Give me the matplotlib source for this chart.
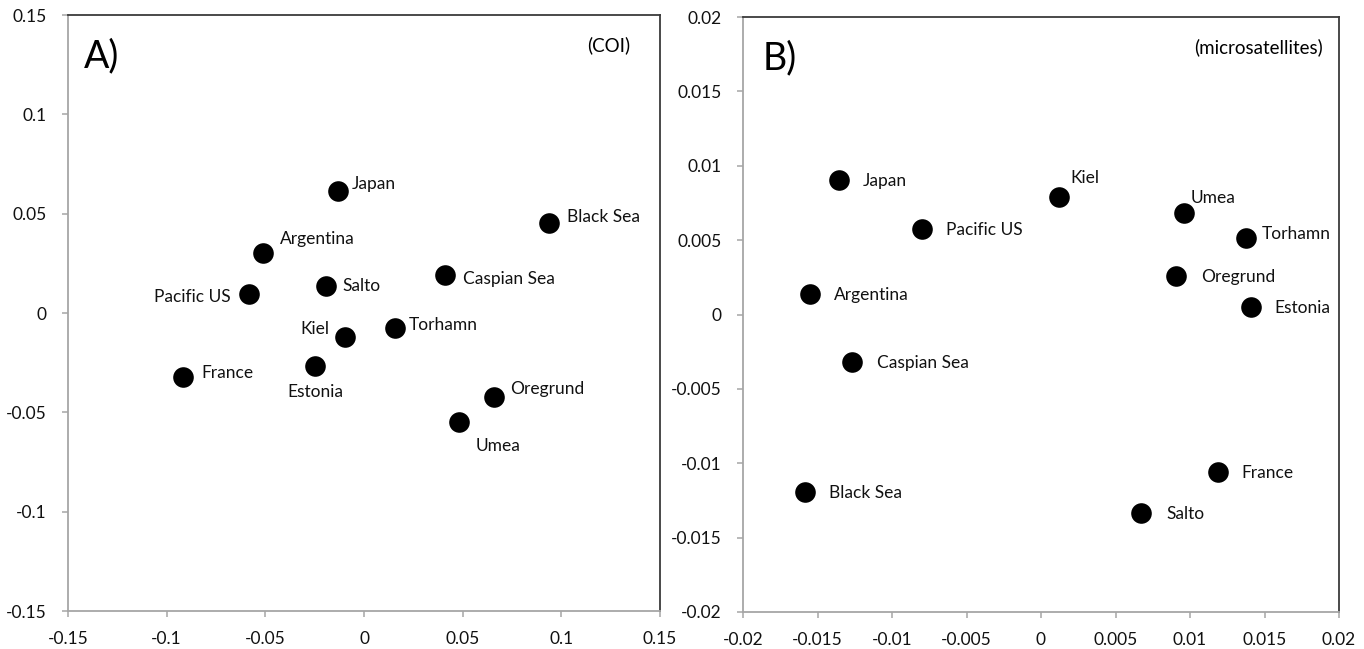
import matplotlib
matplotlib.use("Agg")
import matplotlib.pyplot as plt

plt.rcParams['font.family'] = ['Lato', 'DejaVu Sans']

# ---- Panel A (COI) ----
coi_names = ["Japan", "Black Sea", "Argentina", "Caspian Sea", "Salto", "Pacific US",
             "Torhamn", "Kiel", "Estonia", "France", "Oregrund", "Umea"]
coi_x = [-0.0132, 0.0937, -0.0512, 0.0410, -0.0193, -0.0583,
         0.0155, -0.0096, -0.0248, -0.0917, 0.0661, 0.0481]
coi_y = [0.0614, 0.0453, 0.0302, 0.0191, 0.0136, 0.0096,
         -0.0076, -0.0121, -0.0267, -0.0322, -0.0423, -0.0549]

# ---- Panel B (microsatellites) ----
ms_names = ["Japan", "Pacific US", "Argentina", "Caspian Sea", "Kiel", "Umea",
            "Torhamn", "Oregrund", "Estonia", "Black Sea", "France", "Salto"]
ms_x = [-0.01356, -0.00799, -0.0155, -0.01268, 0.0012, 0.0096,
        0.01376, 0.00906, 0.0141, -0.01584, 0.01188, 0.00671]
ms_y = [0.00904, 0.00575, 0.00138, -0.00319, 0.0079, 0.00682,
        0.00514, 0.00259, 0.0005, -0.01193, -0.01059, -0.01335]

coi_ticks = [-0.15, -0.1, -0.05, 0, 0.05, 0.1, 0.15]
coi_ticklabels = ["-0.15", "-0.1", "-0.05", "0", "0.05", "0.1", "0.15"]
ms_ticks = [-0.02, -0.015, -0.01, -0.005, 0, 0.005, 0.01, 0.015, 0.02]
ms_ticklabels = ["-0.02", "-0.015", "-0.01", "-0.005", "0", "0.005", "0.01", "0.015", "0.02"]

# label offsets in points (dx, dy, ha)
coi_offsets = {
    "Japan": (10, 5, "left"), "Black Sea": (13, 4, "left"), "Argentina": (12, 10, "left"),
    "Caspian Sea": (13, -3, "left"), "Salto": (12, 0, "left"), "Pacific US": (-13, -2, "right"),
    "Torhamn": (10, 2, "left"), "Kiel": (-11, 6, "right"), "Estonia": (0, -19, "center"),
    "France": (13, 3, "left"), "Oregrund": (11, 6, "left"), "Umea": (12, -17, "left"),
}
ms_offsets = {
    "Japan": (17, -1, "left"), "Pacific US": (17, -1, "left"), "Argentina": (17, -1, "left"),
    "Caspian Sea": (18, -1, "left"), "Kiel": (8, 14, "left"), "Umea": (5, 11, "left"),
    "Torhamn": (11, 3, "left"), "Oregrund": (18, -1, "left"), "Estonia": (17, -1, "left"),
    "Black Sea": (17, -1, "left"), "France": (17, -1, "left"), "Salto": (18, -1, "left"),
}

fig = plt.figure(figsize=(13.64, 6.49), dpi=100)
axA = fig.add_axes([68/1364, 1-611/649, (660-68)/1364, (611-15)/649])
axB = fig.add_axes([743/1364, 1-612/649, (1339-743)/1364, (612-17)/649])

def style(ax, ticks, labels, lim):
    ax.set_xlim(lim)
    ax.set_ylim(lim)
    ax.set_xticks(ticks)
    ax.set_xticklabels(labels)
    ax.set_yticks(ticks)
    ax.set_yticklabels(labels)
    for s in ["left", "bottom"]:
        ax.spines[s].set_color("#a6a6a6")
        ax.spines[s].set_linewidth(1.3)
    for s in ["top", "right"]:
        ax.spines[s].set_color("#3a3a3a")
        ax.spines[s].set_linewidth(1.3)
    ax.tick_params(axis="both", direction="out", length=4.5, width=1.1,
                   color="#a6a6a6", labelsize=12.5, labelcolor="#111111")
    ax.tick_params(axis="y", pad=11)
    ax.tick_params(axis="x", pad=10)

style(axA, coi_ticks, coi_ticklabels, (-0.15, 0.15))
style(axB, ms_ticks, ms_ticklabels, (-0.02, 0.02))

def draw(ax, names, xs, ys, offs):
    ax.scatter(xs, ys, s=220, color="black", zorder=3, linewidths=0)
    for n, x, y in zip(names, xs, ys):
        dx, dy, ha = offs[n]
        ax.annotate(n, (x, y), xytext=(dx, dy), textcoords="offset points",
                    ha=ha, va="center", fontsize=12.5, color="#111111")

draw(axA, coi_names, coi_x, coi_y, coi_offsets)
draw(axB, ms_names, ms_x, ms_y, ms_offsets)

axA.text(0.027, 0.93, "A)", transform=axA.transAxes, fontsize=27, ha="left", va="center")
axB.text(0.033, 0.93, "B)", transform=axB.transAxes, fontsize=27, ha="left", va="center")
axA.text(0.95, 0.95, "(COI)", transform=axA.transAxes, fontsize=13.5, ha="right", va="center")
axB.text(0.973, 0.95, "(microsatellites)", transform=axB.transAxes, fontsize=13.5, ha="right", va="center")

fig.savefig("out.png", dpi=100, facecolor="white")
